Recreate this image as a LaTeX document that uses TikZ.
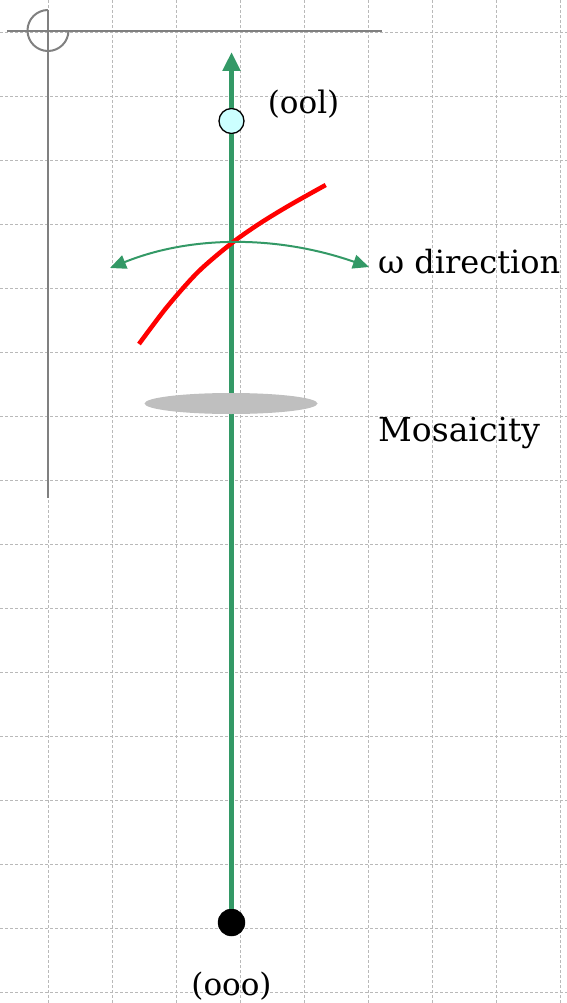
\documentclass[tikz,border=0pt]{standalone}
\usepackage{fontspec}
\setmainfont{DejaVu Serif}
\usetikzlibrary{arrows.meta, positioning, shapes.geometric}

\definecolor{verdeeje}{RGB}{51,153,102}
\definecolor{grisreja}{RGB}{185,185,185}
\definecolor{celeste}{RGB}{204,255,255}

\begin{document}
\begin{tikzpicture}[x=1pt, y=-1pt,
    rejilla/.style={grisreja, line width=0.9pt, dash pattern=on 3pt off 2pt},
    ejegris/.style={draw=gray, line width=2pt},
    punto/.style={draw, circle, inner sep=0pt},
    etiqueta/.style={font=\fontsize{31}{36}\selectfont, inner sep=0pt}]
    \useasboundingbox (0,0) rectangle (567,1003);

    % Dibujar rejilla de fondo
    \foreach \gx in {48,112,...,560} \draw[rejilla] (\gx,0) -- (\gx,1003);
    \foreach \gy in {32,96,...,992} \draw[rejilla] (0,\gy) -- (567,\gy);

    % Ejes grises con el arco
    \draw[ejegris] (7,31) -- (382,31);
    \draw[ejegris] (48,10) -- (48,498);
    \draw[ejegris] (48,10) arc[start angle=90, end angle=360, radius=20.5pt];

    % Definir nodos de reflexiones
    \node (ooo) [punto, fill=black, minimum size=27pt] at (231.5,922.5) {};
    \node (ool) [punto, fill=celeste, line width=1.3pt, minimum size=25pt] at (231.5,121) {};
    \coordinate (tope) at (231.5,52);

    % Dibujar eje verde
    \draw[verdeeje, line width=4.7pt] (ooo) -- (ool);
    \draw[verdeeje, line width=4.7pt, -{Triangle[length=19pt, width=17pt]}] (ool) -- (tope);

    % Curva roja
    \draw[red, line width=4.5pt] plot[smooth, tension=0.5] coordinates {(139,344) (166.7,307.3) (198,272) (231.5,243.3) (260,223.3) (290,205) (325.7,185)};

    % Flecha de direccion omega
    \coordinate (flechaizq) at (110,268);
    \coordinate (flechader) at (369,267);
    \draw[verdeeje, line width=2pt, {Triangle[length=16pt, width=14pt]}-{Triangle[length=16pt, width=14pt]}] (flechaizq) .. controls (191,235.3) and (277.3,235) .. (flechader);

    % Elipse de mosaicidad
    \node (mosaico) [ellipse, fill=gray!50, inner sep=0pt, minimum width=173pt, minimum height=21pt] at (231,403.5) {};

    % Etiquetas
    \node (lblool) [etiqueta, right=23pt of ool, yshift=17pt] {(ool)};
    \node (lblooo) [etiqueta, below=36pt of ooo] {(ooo)};
    \node (lblomega) [etiqueta, font=\fontsize{32}{36}\selectfont, anchor=base west] at (378,273) {ω direction};
    \node (lblmosaico) [etiqueta, font=\fontsize{33}{38}\selectfont, anchor=base west] at (378,441) {Mosaicity};
\end{tikzpicture}
\end{document}
